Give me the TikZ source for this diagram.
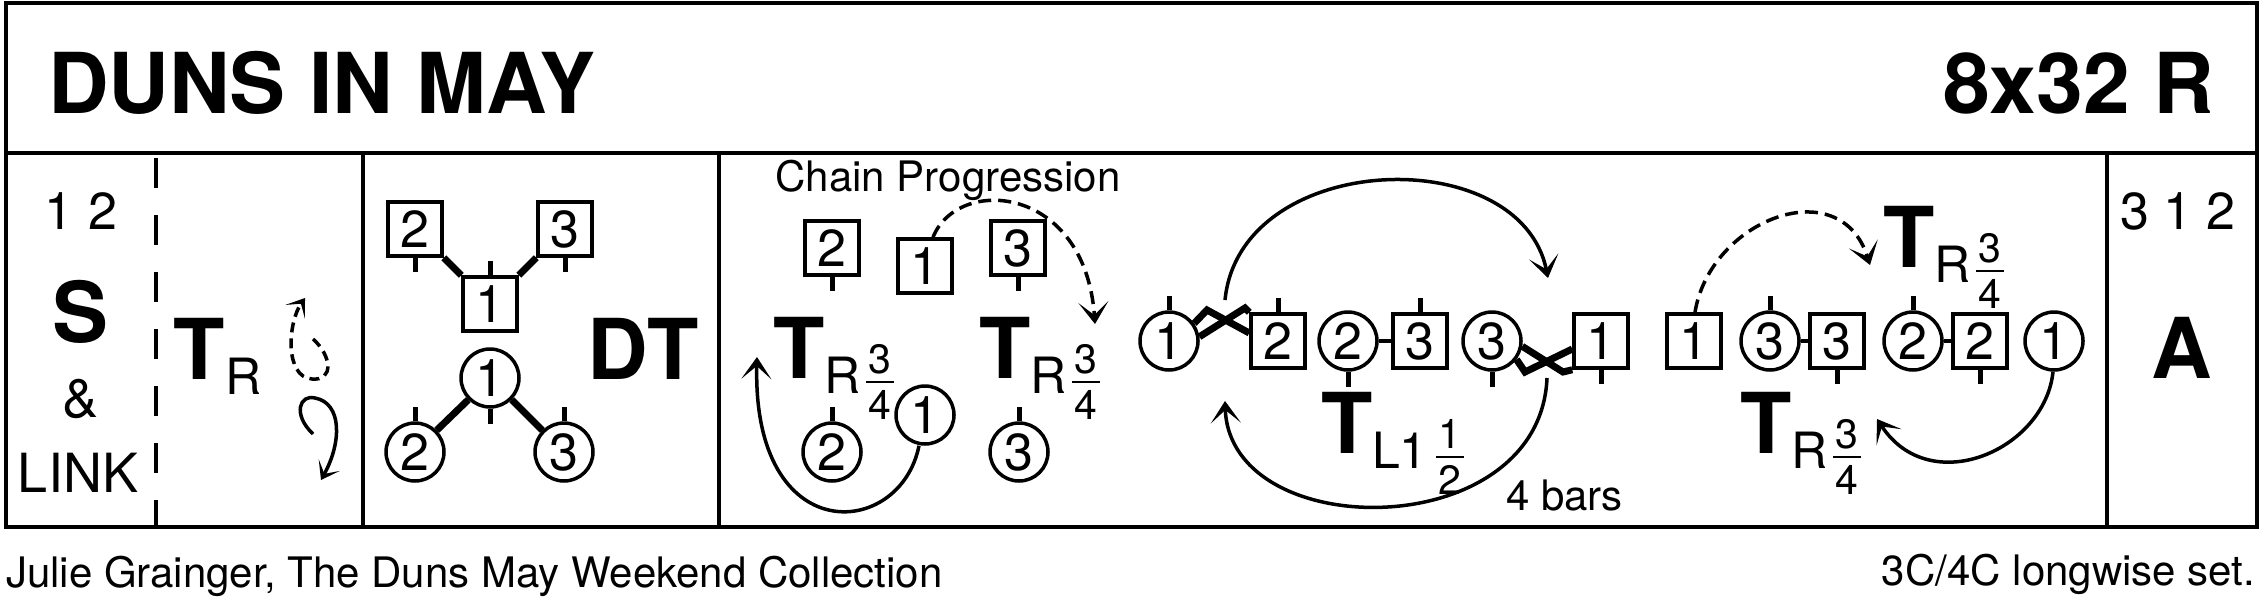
\documentclass[tikz,border=0pt]{standalone}
\usepackage{fontspec}
\setmainfont{TeX Gyre Heros}
\usetikzlibrary{arrows.meta,calc}
\newcommand{\dnTitleFont}{\fontsize{84pt}{84pt}\selectfont\bfseries}
\newcommand{\dnBigFont}{\fontsize{84pt}{84pt}\selectfont\bfseries}
\newcommand{\dnDigFont}{\fontsize{52pt}{52pt}\selectfont}
\newcommand{\dnMidFont}{\fontsize{54pt}{54pt}\selectfont}
\newcommand{\dnSubFont}{\fontsize{50pt}{50pt}\selectfont}
\newcommand{\dnFracFont}{\fontsize{41pt}{41pt}\selectfont}
\newcommand{\dnSmallFont}{\fontsize{42pt}{42pt}\selectfont}
% turn label: id, ink-left x, baseline y, subscript, numerator, denominator, fraction centre offset
\newcommand{\turnlab}[7]{%
  \node[bigtxt, anchor=base west] (#1T) at ({#2-2},{#3}) {T};
  \node[subtxt, anchor=base west] (#1S) at ({#2+49},{#3+15}) {#4};
  \node[fractxt, anchor=base] (#1N) at ({#2+#7},{#3-5}) {#5};
  \draw[fracbar] ({#2+#7-14},{#3+4}) -- ({#2+#7+14},{#3+4});
  \node[fractxt, anchor=base] (#1D) at ({#2+#7},{#3+41}) {#6};
}
\begin{document}
\begin{tikzpicture}[x=1pt,y=-1pt,
  txt/.style={inner sep=0pt, outer sep=0pt},
  titletxt/.style={txt, font=\dnTitleFont},
  bigtxt/.style={txt, font=\dnBigFont},
  numtxt/.style={txt, font=\dnDigFont},
  midtxt/.style={txt, font=\dnMidFont},
  subtxt/.style={txt, font=\dnSubFont},
  fractxt/.style={txt, font=\dnFracFont},
  smalltxt/.style={txt, font=\dnSmallFont},
  frameline/.style={line width=4.5pt},
  colline/.style={line width=3.5pt},
  man/.style={draw, rectangle, line width=3.5pt, minimum size=54pt, inner sep=0pt, font=\dnDigFont},
  lady/.style={draw, circle, line width=3.5pt, minimum size=58pt, inner sep=0pt, font=\dnDigFont},
  tick/.style={line width=5pt},
  hand/.style={line width=3.5pt},
  bighand/.style={line width=7pt, line join=miter},
  fracbar/.style={line width=2.8pt},
  arr/.style={line width=3.5pt, -{Stealth[length=22pt,width=30pt,inset=13pt]}},
  darr/.style={arr, dash pattern=on 13pt off 7pt},
  sarr/.style={line width=3.5pt, -{Stealth[length=17pt,width=24pt,inset=10pt]}},
  dsarr/.style={sarr, dash pattern=on 10pt off 6pt},
]
\useasboundingbox (0,0) rectangle (2267,608);

% frame
\draw[frameline] (6,3) rectangle (2257,527);
\draw[frameline] (6,153) -- (2257,153);
\draw[colline, dash pattern=on 30pt off 27pt] (156,158) -- (156,527);
\draw[colline] (363,153) -- (363,527);
\draw[colline] (719,153) -- (719,527);
\draw[colline] (2107,153) -- (2107,527);

% title
\node[titletxt, anchor=base west] (title) at (48,113) {DUNS IN MAY};
\node[titletxt, anchor=base east] (form) at (2214,113) {8x32 R};

% column 1
\node[numtxt, anchor=base] (c1num) at (81,229) {1 2};
\node[bigtxt, anchor=base] (c1S) at (81,342) {S};
\node[midtxt, anchor=base] (c1amp) at (81,417) {\&};
\node[midtxt, anchor=base] (c1link) at (78,492) {LINK};

% column 2
\node[bigtxt, anchor=base west] (c2T) at (173,379) {T};
\node[subtxt, anchor=base west] (c2R) at (225,394) {R};
\coordinate (lp1s) at (313,339);
\coordinate (lp1e) at (305,298);
\draw[dsarr] (lp1s) .. controls (332,356) and (334,381) .. (312,379)
  .. controls (284,377) and (288,322) .. (lp1e);
\coordinate (lp2s) at (313,434);
\coordinate (lp2e) at (321,480);
\draw[sarr] (lp2s) .. controls (292,414) and (300,394) .. (315,398)
  .. controls (342,403) and (342,442) .. (lp2e);

% column 3 : double triangles
\node[man] (d2m) at (415,229) {2};
\node[man] (d3m) at (565,229) {3};
\node[man] (d1m) at (490,304) {1};
\node[lady] (d1w) at (490,378) {1};
\node[lady] (d2w) at (415,452) {2};
\node[lady] (d3w) at (564,452) {3};
\draw[tick] (d2m.south) -- ++(0,14);
\draw[tick] (d3m.south) -- ++(0,14);
\draw[tick] (d1m.north) -- ++(0,-14);
\draw[tick] (d1w.south) -- ++(0,15);
\draw[tick] (d2w.north) -- ++(0,-14);
\draw[tick] (d3w.north) -- ++(0,-14);
\draw[bighand] (d2m.south east) -- (d1m.north west);
\draw[bighand] (d3m.south west) -- (d1m.north east);
\draw[bighand] (d1w.south west) -- (d2w.north east);
\draw[bighand] (d1w.south east) -- (d3w.north west);
\node[bigtxt, anchor=base] (dt) at (643,379) {DT};

% column 4 : chain progression
\node[smalltxt, anchor=base] (chain) at (948,191) {Chain Progression};
\node[man] (p2m) at (832,248) {2};
\node[man] (p1m) at (925,266) {1};
\node[man] (p3m) at (1018,248) {3};
\node[lady] (p2w) at (832,452) {2};
\node[lady] (p1w) at (925,415) {1};
\node[lady] (p3w) at (1019,452) {3};
\draw[tick] (p2m.south) -- ++(0,14);
\draw[tick] (p3m.south) -- ++(0,14);
\draw[tick] (p2w.north) -- ++(0,-14);
\draw[tick] (p3w.north) -- ++(0,-14);
\turnlab{ta}{775}{378}{R}{3}{4}{105}
\turnlab{tb}{981}{378}{R}{3}{4}{105}
\coordinate (pa1) at (1095,324);
\draw[darr] ($(p1m.north)+(8,0)$) .. controls (958,175) and (1085,185) .. (pa1);
\coordinate (pa2) at (757,357);
\draw[arr] ($(p1w.south)+(-6,0)$) .. controls (900,540) and (752,550) .. (pa2);

% row A
\node[lady] (a1w) at (1169,341) {1};
\node[man] (a2m) at (1278,341) {2};
\node[lady] (a2w) at (1348,341) {2};
\node[man] (a3m) at (1420,341) {3};
\node[lady] (a3w) at (1492,341) {3};
\node[man] (a1m) at (1601,341) {1};
\draw[tick] (a1w.north) -- ++(0,-14);
\draw[tick] (a2m.north) -- ++(0,-14);
\draw[tick] (a2w.south) -- ++(0,15);
\draw[tick] (a3m.north) -- ++(0,-14);
\draw[tick] (a3w.south) -- ++(0,15);
\draw[tick] (a1m.south) -- ++(0,14);
\draw[hand] (a2w.east) -- (a3m.west);
\draw[bighand] (a1w.8) -- (1245,308) -- (a2m.north west);
\draw[bighand] (a1w.35) -- (1207,310) -- ($(a2m.west)+(0,-8)$);
\draw[bighand] (a3w.-10) -- (1563,372) -- (a1m.south west);
\draw[bighand] (a3w.-37) -- (1525,372) -- ($(a1m.west)+(0,8)$);
\coordinate (ra1) at (1225,300);
\coordinate (ra2) at (1548,278);
\draw[arr] (ra1) .. controls (1240,150) and (1520,140) .. (ra2);
\coordinate (rb1) at (1547,378);
\coordinate (rb2) at (1225,401);
\draw[arr] (rb1) .. controls (1540,545) and (1230,545) .. (rb2);
\turnlab{tc}{1323}{453}{L1}{1}{2}{127}
\node[smalltxt, anchor=base west] (bars) at (1506,510) {4 bars};

% row B
\node[man] (b1m) at (1694,341) {1};
\node[lady] (b3w) at (1770,341) {3};
\node[man] (b3m) at (1837,341) {3};
\node[lady] (b2w) at (1913,341) {2};
\node[man] (b2m) at (1980,341) {2};
\node[lady] (b1w) at (2054,341) {1};
\draw[tick] (b3w.north) -- ++(0,-14);
\draw[tick] (b3m.south) -- ++(0,14);
\draw[tick] (b2w.north) -- ++(0,-14);
\draw[tick] (b2m.south) -- ++(0,14);
\draw[hand] (b3w.east) -- (b3m.west);
\draw[hand] (b2w.east) -- (b2m.west);
\turnlab{td}{1885}{267}{R}{3}{4}{105}
\turnlab{te}{1742}{453}{R}{3}{4}{105}
\coordinate (qa1) at (1870,265);
\draw[darr] ($(b1m.north)+(1,0)$) .. controls (1710,220) and (1840,170) .. (qa1);
\coordinate (qa2) at (1877,419);
\draw[arr] ($(b1w.south)+(-1,0)$) .. controls (2045,450) and (1930,500) .. (qa2);

% column 5
\node[numtxt, anchor=base] (r312) at (2178,229) {3 1 2};
\node[bigtxt, anchor=base] (rA) at (2182,378) {A};

% footer
\node[smalltxt, anchor=base west] (foot1) at (6,587) {Julie Grainger, The Duns May Weekend Collection};
\node[smalltxt, anchor=base east] (foot2) at (2255,585) {3C/4C longwise set.};
\end{tikzpicture}
\end{document}
